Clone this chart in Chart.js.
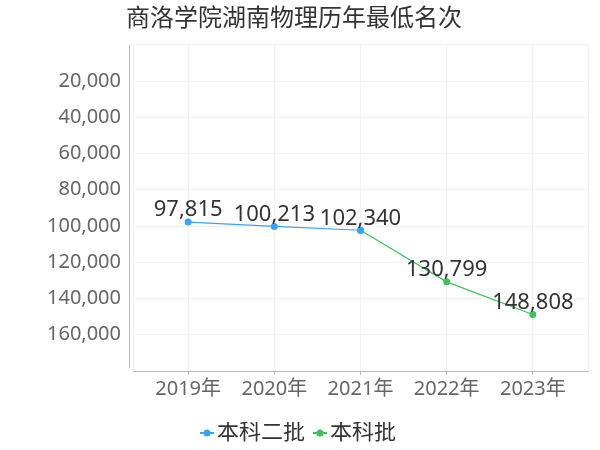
<!DOCTYPE html>
<html>
<head>
<meta charset="utf-8">
<script src="https://cdn.jsdelivr.net/npm/chart.js@4/dist/chart.umd.min.js"></script>
<style>
  body { margin: 0; background: #fff; }
  #box { width: 600px; height: 450px; }
</style>
</head>
<body>
<div id="box"><canvas id="rankChart" width="600" height="450"></canvas></div>
<script>
var years = [2019, 2020, 2021, 2022, 2023];
var yearLabels = ['2019年', '2020年', '2021年', '2022年', '2023年'];
var seriesNames = ['本科二批', '本科批'];
var erpiValues = [97815, 100213, 102340, null, null];
var benkeValues = [null, null, 102340, 130799, 148808];
var yTicks = [20000, 40000, 60000, 80000, 100000, 120000, 140000, 160000];

var blue = '#3ba1ff';
var green = '#3cc35a';
var font = '"Noto Sans", "Noto Sans CJK SC", sans-serif';

function toPoints(values) {
  return years.map(function (y, i) {
    return { x: y, y: values[i] };
  }).filter(function (p) { return p.y !== null; });
}

// line + dot legend symbol, drawn at the right end of a wider image so the
// text sits close to it
function legendIcon(color) {
  var c = document.createElement('canvas');
  c.width = 30; c.height = 10;
  var g = c.getContext('2d');
  g.strokeStyle = color;
  g.lineWidth = 2;
  g.beginPath(); g.moveTo(16, 5); g.lineTo(30, 5); g.stroke();
  g.fillStyle = color;
  g.beginPath(); g.arc(23, 5, 3.5, 0, Math.PI * 2); g.fill();
  return c;
}

var valueLabels = {
  id: 'valueLabels',
  afterDatasetsDraw: function (chart) {
    var ctx = chart.ctx;
    var done = {};
    ctx.save();
    ctx.font = '22px ' + font;
    ctx.fillStyle = '#333';
    ctx.textAlign = 'center';
    ctx.textBaseline = 'bottom';
    chart.data.datasets.forEach(function (ds, di) {
      chart.getDatasetMeta(di).data.forEach(function (pt, i) {
        var v = ds.data[i].y;
        var key = ds.data[i].x + '_' + v;
        if (done[key]) return;
        done[key] = true;
        ctx.fillText(v.toLocaleString('en-US'), pt.x, pt.y - 1);
      });
    });
    ctx.restore();
  }
};

// y axis line sits a little left of the plot, like the original
var axisLines = {
  id: 'axisLines',
  afterDraw: function (chart) {
    var a = chart.chartArea;
    var ctx = chart.ctx;
    ctx.save();
    ctx.strokeStyle = '#bbb';
    ctx.lineWidth = 1;
    ctx.beginPath();
    ctx.moveTo(a.left - 3.5, a.top);
    ctx.lineTo(a.left - 3.5, a.bottom - 3);
    ctx.stroke();
    ctx.restore();
  }
};

var chartCtx = document.getElementById('rankChart').getContext('2d');
var rankChart = new Chart(chartCtx, {
  type: 'line',
  data: {
    datasets: [
      {
        label: seriesNames[0],
        data: toPoints(erpiValues),
        borderColor: blue,
        backgroundColor: blue,
        borderWidth: 1.2,
        pointRadius: 3.5,
        pointStyle: 'circle',
        pointBackgroundColor: blue,
        pointBorderWidth: 0,
        tension: 0,
      },
      {
        label: seriesNames[1],
        data: toPoints(benkeValues),
        borderColor: green,
        backgroundColor: green,
        borderWidth: 1.2,
        pointRadius: 3.5,
        pointStyle: 'circle',
        pointBackgroundColor: green,
        pointBorderWidth: 0,
        tension: 0,
      },
    ],
  },
  options: {
    responsive: false,
    animation: false,
    layout: {
      autoPadding: false,
      padding: { left: 0, right: 12, top: 0, bottom: -4 },
    },
    plugins: {
      title: {
        display: true,
        text: '商洛学院湖南物理历年最低名次',
        color: '#333',
        font: { family: font, size: 24, weight: 'normal' },
        padding: { top: 5, bottom: 11 },
      },
      legend: {
        position: 'bottom',
        labels: {
          color: '#333',
          font: { family: font, size: 22 },
          usePointStyle: true,
          pointStyleWidth: 14,
          padding: 0,
          generateLabels: function (chart) {
            return chart.data.datasets.map(function (ds, i) {
              return {
                text: ds.label,
                fontColor: '#333',
                pointStyle: legendIcon(ds.borderColor),
                datasetIndex: i,
                lineWidth: 0,
                strokeStyle: ds.borderColor,
                fillStyle: ds.borderColor,
              };
            });
          },
        },
      },
      tooltip: { enabled: false },
    },
    scales: {
      x: {
        type: 'linear',
        min: 2018.36,
        max: 2023.64,
        afterBuildTicks: function (scale) {
          scale.ticks = [{ value: 2018.36 }].concat(years.map(function (y) {
            return { value: y };
          })).concat([{ value: 2023.64 }]);
        },
        afterFit: function (scale) {
          scale.height = 51;
        },
        ticks: {
          color: '#666',
          font: { family: font, size: 20 },
          padding: 2,
          autoSkip: false,
          maxRotation: 0,
          callback: function (v) {
            var i = years.indexOf(v);
            return i >= 0 ? yearLabels[i] : '';
          },
        },
        grid: {
          color: '#f2f2f2',
          tickColor: function (c) {
            return years.indexOf(c.tick.value) >= 0 ? '#bbb' : 'rgba(0,0,0,0)';
          },
          tickLength: 4,
        },
        border: { color: '#bbb' },
      },
      y: {
        reverse: true,
        min: 0,
        max: 180000,
        afterBuildTicks: function (scale) {
          scale.ticks = [{ value: 0 }].concat(yTicks.map(function (v) {
            return { value: v };
          })).concat([{ value: 180000 }]);
        },
        afterFit: function (scale) {
          scale.width = 133;
        },
        ticks: {
          color: '#666',
          font: { family: font, size: 20 },
          padding: 8,
          callback: function (v) {
            return yTicks.indexOf(v) >= 0 ? v.toLocaleString('en-US') : '';
          },
        },
        grid: {
          color: '#f2f2f2',
          drawTicks: true,
          tickLength: 4,
          tickColor: 'rgba(0,0,0,0)',
        },
        border: { display: false },
      },
    },
  },
  plugins: [valueLabels, axisLines],
});
</script>
</body>
</html>
